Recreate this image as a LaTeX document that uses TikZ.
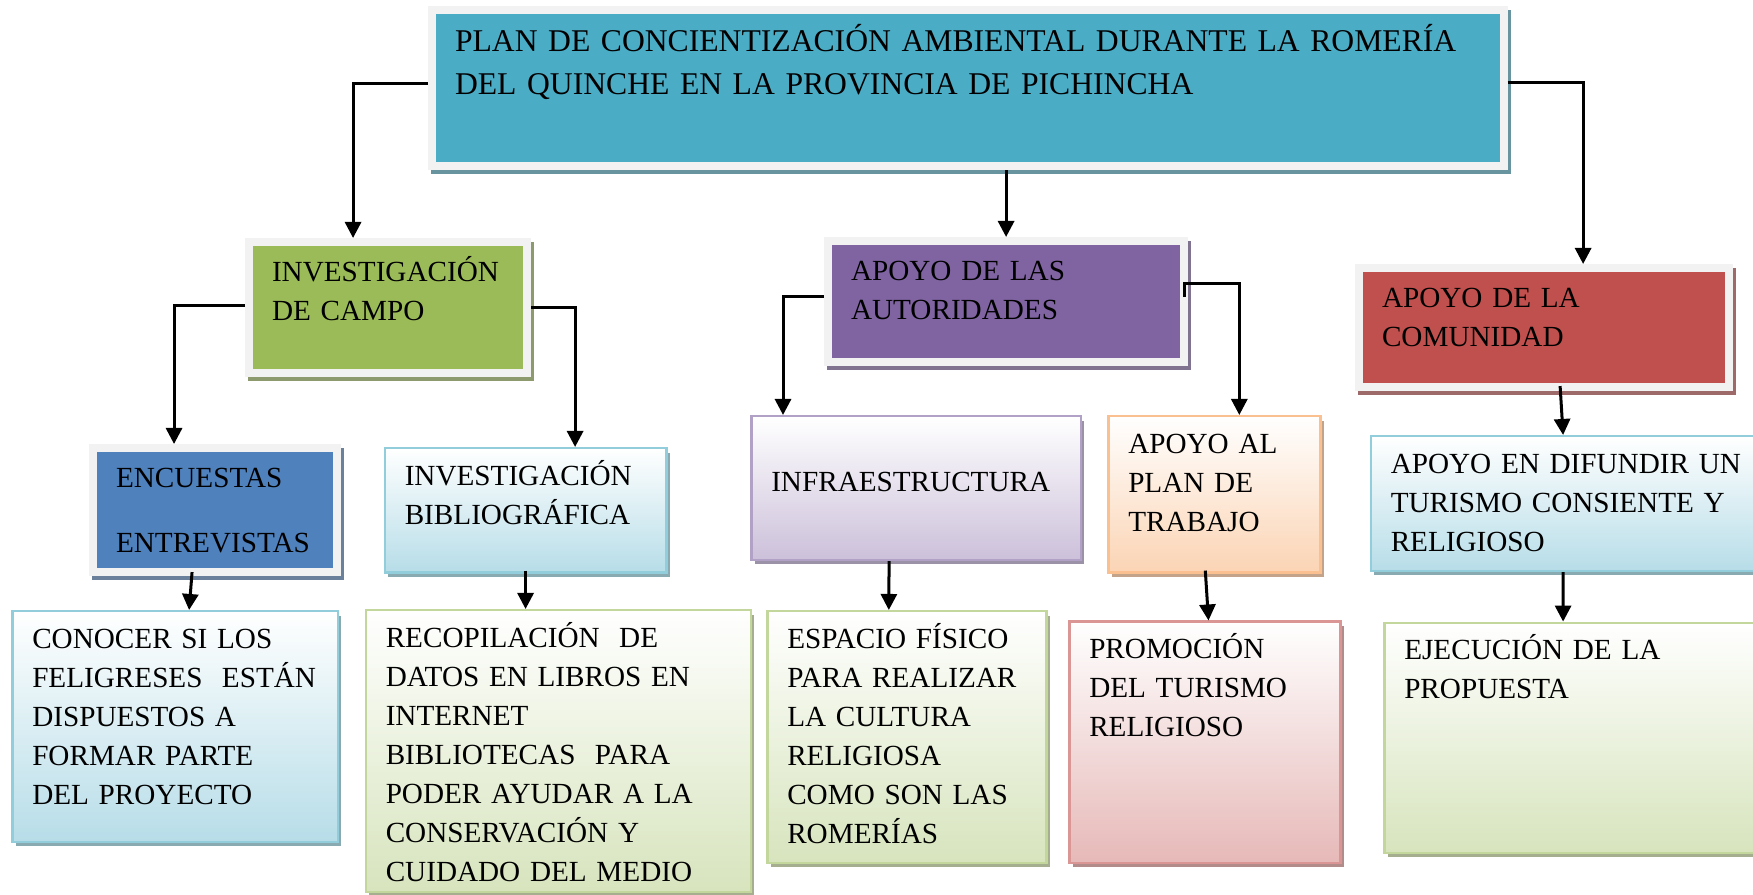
\documentclass[tikz,border=0pt]{standalone}
\usepackage{fontspec}
\setmainfont{Liberation Serif}
\usetikzlibrary{arrows.meta,shadows}

\definecolor{framegray}{HTML}{F2F2F2}
\definecolor{titleblue}{HTML}{4BACC6}
\definecolor{campogreen}{HTML}{9BBB59}
\definecolor{autpurple}{HTML}{8064A2}
\definecolor{comred}{HTML}{C0504D}
\definecolor{encblue}{HTML}{4F81BD}
\definecolor{skyfill}{HTML}{B7DDE8}
\definecolor{skyline}{HTML}{92CDDC}
\definecolor{lilacfill}{HTML}{CCC0DA}
\definecolor{lilacline}{HTML}{B2A1C7}
\definecolor{peachfill}{HTML}{FBD4B4}
\definecolor{peachline}{HTML}{FAC090}
\definecolor{sagefill}{HTML}{D7E4BD}
\definecolor{sageline}{HTML}{C3D69B}
\definecolor{rosefill}{HTML}{E6B9B8}
\definecolor{roseline}{HTML}{D99694}

\begin{document}
\begin{tikzpicture}[x=0.01cm,y=-0.01cm,->,>={Triangle[length=0.16cm,width=0.16cm]},line width=0.03cm,
  box/.style={anchor=north west,align=left,text width=#1,text height=0.2cm,font=\fontsize{8.3}{11.1}\selectfont},
  solid node/.style 2 args={box=#1,fill=#2,draw=framegray,line width=0.08cm,inner xsep=0.23cm,inner ysep=0.195cm,
    drop shadow={shadow xshift=0.03cm,shadow yshift=-0.04cm,fill=#2!45!gray,draw=#2!45!gray,line width=0.08cm,opacity=1}},
  shade node/.style n args={3}{box=#1,top color=white,bottom color=#2,draw=#3,line width=0.025cm,inner xsep=0.2cm,inner ysep=0.17cm,
    drop shadow={shadow xshift=0.035cm,shadow yshift=-0.045cm,fill=#3!55!gray,opacity=1}}]
  \useasboundingbox (0,0) rectangle (1753,895);

  % top
  \node[solid node={10.25cm}{titleblue},text height=0.22cm,text depth=0.95cm,font=\fontsize{9}{12.1}\selectfont] (title) at (428,6)
    {PLAN DE CONCIENTIZACIÓN AMBIENTAL DURANTE LA ROMERÍA\\DEL QUINCHE EN LA PROVINCIA DE PICHINCHA};

  % second row
  \node[solid node={2.32cm}{campogreen},text depth=0.72cm] (campo) at (245,238) {INVESTIGACIÓN\\DE CAMPO};
  \node[solid node={3.10cm}{autpurple},text depth=0.62cm] (autoridades) at (824,237) {APOYO DE LAS\\AUTORIDADES};
  \node[solid node={3.24cm}{comred},text depth=0.60cm] (comunidad) at (1355,264) {APOYO DE LA\\COMUNIDAD};

  % third row
  \node[solid node={1.98cm}{encblue},text depth=0.65cm] (encuestas) at (89,444) {ENCUESTAS\\[7.4pt]ENTREVISTAS};
  \node[shade node={2.415cm}{skyfill}{skyline},text depth=0.70cm] (biblio) at (383.5,447) {INVESTIGACIÓN\\BIBLIOGRÁFICA};
  \node[shade node={2.895cm}{lilacfill}{lilacline},text height=0.58cm,text depth=0.515cm] (infra) at (750,415) {INFRAESTRUCTURA};
  \node[shade node={1.72cm}{peachfill}{peachline},text depth=1.02cm] (plan) at (1107,415) {APOYO AL\\PLAN DE\\TRABAJO};
  \node[shade node={3.53cm}{skyfill}{skyline},text depth=0.805cm] (difundir) at (1369.5,435) {APOYO EN DIFUNDIR UN\\TURISMO CONSIENTE Y\\RELIGIOSO};

  % bottom row
  \node[shade node={2.855cm}{skyfill}{skyline},text depth=1.765cm] (conocer) at (11,610)
    {CONOCER SI LOS\\FELIGRESES\ \ ESTÁN\\DISPUESTOS A\\FORMAR PARTE\\DEL PROYECTO};
  \node[shade node={3.45cm}{sagefill}{sageline},text depth=2.275cm] (recopilacion) at (364.5,609)
    {RECOPILACIÓN\ \ DE\\DATOS EN LIBROS EN\\INTERNET\\BIBLIOTECAS\ \ PARA\\PODER AYUDAR A LA\\CONSERVACIÓN Y\\CUIDADO DEL MEDIO};
  \node[shade node={2.39cm}{sagefill}{sageline},text depth=1.975cm] (espacio) at (766,610)
    {ESPACIO FÍSICO\\PARA REALIZAR\\LA CULTURA\\RELIGIOSA\\COMO SON LAS\\ROMERÍAS};
  \node[shade node={2.31cm}{rosefill}{roseline},text depth=1.87cm] (promocion) at (1068,620.5)
    {PROMOCIÓN\\DEL TURISMO\\RELIGIOSO};
  \node[shade node={3.395cm}{sagefill}{sageline},text depth=1.76cm] (ejecucion) at (1383,621.6)
    {EJECUCIÓN DE LA\\PROPUESTA};

  % connectors
  \draw ([yshift=0.05cm]title.west) -| ([xshift=-0.35cm]campo.north);
  \draw (title.south -| autoridades.north) -- (autoridades.north);
  \draw ([yshift=0.06cm]title.east) -| ([xshift=0.39cm]comunidad.north);
  \draw ([yshift=0.025cm]campo.west) -| ([xshift=-0.41cm]encuestas.north);
  \draw (campo.east) -| ([xshift=0.495cm]biblio.north);
  \draw ([yshift=0.055cm]autoridades.west) -| ([xshift=-1.33cm]infra.north);
  \draw ([xshift=-0.04cm,yshift=0.045cm]autoridades.east) -- ++(0,-14) -| ([xshift=0.25cm]plan.north);
  \draw ([xshift=0.16cm,yshift=0.05cm]comunidad.south) -- ([xshift=1.935cm]difundir.north west);
  \draw ([xshift=-0.23cm,yshift=0.04cm]encuestas.south) -- ([xshift=0.14cm]conocer.north);
  \draw ([yshift=0.03cm]biblio.south) -- (biblio.south |- recopilacion.north);
  \draw ([xshift=-0.27cm]infra.south) -- ([xshift=-0.18cm]espacio.north);
  \draw ([xshift=-0.09cm,yshift=0.03cm]plan.south) -- ([xshift=0.037cm]promocion.north);
  \draw ([xshift=1.935cm]difundir.south west) -- ([xshift=1.8cm]ejecucion.north west);
\end{tikzpicture}
\end{document}
